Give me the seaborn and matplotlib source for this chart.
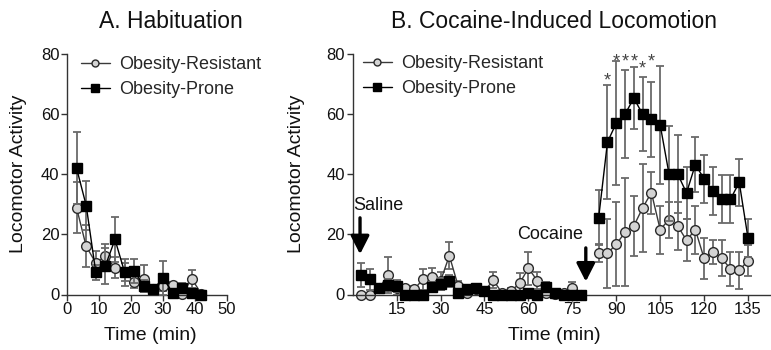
import matplotlib
matplotlib.use("Agg")
import matplotlib.pyplot as plt
import numpy as np
import pandas as pd
import seaborn as sns
from matplotlib.lines import Line2D

# ---------------- data ----------------
# A. Habituation (3-min bins)
hab_time = [3, 6, 9, 12, 15, 18, 21, 24, 27, 30, 33, 36, 39, 42]
hab_or = [28.8, 16.0, 10.5, 12.7, 8.9, 7.6, 4.1, 5.2, 1.7, 2.8, 3.0, 0.2, 5.2, 0.2]
hab_or_sem = [8.5, 7.0, 4.0, 4.0, 3.5, 3.0, 2.0, 4.5, 1.5, 1.5, 1.0, 1.0, 3.0, 0.5]
hab_op = [42.0, 29.6, 7.4, 9.6, 18.3, 7.4, 7.8, 2.8, 1.7, 5.5, 0.6, 2.2, 0.6, 0.0]
hab_op_sem = [12.0, 8.0, 2.5, 6.0, 7.5, 4.5, 4.0, 2.0, 1.0, 5.5, 1.0, 1.5, 1.0, 0.5]

# B. Cocaine-induced locomotion: saline phase
sal_time = [3, 6, 9, 12, 15, 18, 21, 24, 27, 30, 33, 36, 39, 42, 45, 48, 51, 54,
            57, 60, 63, 66, 69, 72, 75, 78]
sal_or = [0, 0, 2.0, 6.5, 2.0, 2.3, 1.7, 5.1, 5.7, 4.5, 12.9, 2.9, 0.6, 1.7, 1.1,
          4.8, 0.5, 1.1, 3.7, 8.8, 4.6, 0.6, 0.2, 0.5, 2.3, 0]
sal_or_sem = [0.5, 0.5, 1.5, 6.0, 2.0, 1.0, 1.0, 3.5, 3.0, 3.0, 4.5, 1.5, 0.5, 1.0,
              1.0, 2.6, 0.5, 1.0, 3.3, 5.5, 2.8, 0.5, 0.3, 0.5, 1.7, 0.3]
sal_op = [6.5, 5.1, 2.0, 3.0, 2.9, 0, 0, 0, 2.5, 3.4, 4.6, 0.6, 1.7, 2.0, 1.1,
          0, 0, 0, 0, 0.6, 0, 2.5, 0.6, 0, 0, 0]
sal_op_sem = [4.0, 3.5, 1.5, 2.0, 2.0, 0.3, 0.3, 0.3, 1.5, 2.0, 2.0, 0.5, 1.0, 1.0,
              1.0, 0.3, 0.3, 0.3, 0.3, 0.5, 0.3, 1.5, 0.5, 0.3, 0.3, 0.3]

# B. cocaine phase
coc_time = [84, 87, 90, 93, 96, 99, 102, 105, 108, 111, 114, 117, 120, 123, 126,
            129, 132, 135]
coc_op = [25.6, 50.7, 57.0, 60.0, 65.3, 60.0, 58.3, 56.4, 40.2, 40.0, 33.8, 43.2,
          38.5, 34.4, 31.7, 31.7, 37.3, 18.7]
coc_op_sem = [9.0, 19.0, 20.6, 14.6, 10.4, 12.3, 12.5, 19.6, 15.8, 13.0, 8.7, 9.1,
              8.0, 8.0, 8.0, 8.0, 7.8, 6.3]
coc_or = [13.9, 13.7, 16.7, 20.7, 22.8, 28.8, 33.9, 21.6, 24.9, 22.8, 18.0, 21.6,
          12.0, 14.2, 12.1, 8.5, 8.0, 11.3]
coc_or_sem = [3.0, 11.4, 14.0, 18.0, 10.0, 14.5, 7.0, 8.0, 6.0, 8.0, 7.0, 8.0,
              6.9, 4.0, 6.0, 5.7, 6.3, 5.0]

# significance stars (time, y)
star_time = [87, 90, 93, 96, 99, 102]
star_y = [72.9, 79.4, 79.4, 79.4, 76.9, 79.4]

labels = ["Obesity-Resistant", "Obesity-Prone"]

# ---------------- style ----------------
sns.set_theme(style="ticks")
plt.rcParams["font.family"] = ["Liberation Sans", "DejaVu Sans"]
plt.rcParams["axes.linewidth"] = 1.0

W, H = 771, 350
fig = plt.figure(figsize=(W / 100, H / 100), dpi=100)

def px_ax(x0, x1, ytop, ybot):
    return fig.add_axes([x0 / W, 1 - ybot / H, (x1 - x0) / W, (ybot - ytop) / H])

axA = px_ax(67, 227, 54, 294.5)
axB = px_ax(352.7, 770, 54, 294.5)

ERR_C = "#6a6a6a"
OR_STYLE = dict(color="#3a3a3a", marker="o", ms=7, mfc="#d4d4d4", mec="#2a2a2a", mew=1.0)
OP_STYLE = dict(color="black", marker="s", ms=6.6, mfc="black", mec="black", mew=1.0)


def draw(ax, t, y, e, seg, style, z):
    df = pd.DataFrame({"Time": t, "Activity": y, "seg": seg})
    ax.errorbar(t, y, yerr=e, fmt="none", ecolor=ERR_C, elinewidth=1.3,
                capsize=3.2, capthick=1.3, zorder=z)
    sns.lineplot(data=df, x="Time", y="Activity", units="seg", estimator=None,
                 ax=ax, lw=1.0, legend=False, zorder=z + 0.5, clip_on=False, **style)


# Panel A
draw(axA, hab_time, hab_or, hab_or_sem, [0] * len(hab_time), OR_STYLE, 2)
draw(axA, hab_time, hab_op, hab_op_sem, [0] * len(hab_time), OP_STYLE, 4)

# Panel B
t_all = sal_time + coc_time
seg_all = [0] * len(sal_time) + [1] * len(coc_time)
draw(axB, t_all, sal_or + coc_or, sal_or_sem + coc_or_sem, seg_all, OR_STYLE, 2)
draw(axB, t_all, sal_op + coc_op, sal_op_sem + coc_op_sem, seg_all, OP_STYLE, 4)

for ax in (axA, axB):
    ax.set_ylim(0, 80)
    ax.set_yticks([0, 20, 40, 60, 80])
    ax.spines["top"].set_visible(False)
    ax.spines["right"].set_visible(False)
    for s in ("left", "bottom"):
        ax.spines[s].set_color("#333333")
    ax.tick_params(direction="out", length=4, width=1, color="#333333",
                   labelsize=12, labelcolor="#111111", pad=1.5)
    ax.set_ylabel("Locomotor Activity", fontsize=14, color="#111111")
    ax.set_xlabel("Time (min)", fontsize=14, color="#111111")

axA.set_xlim(0, 50)
axA.set_xticks([0, 10, 20, 30, 40, 50])
axB.set_xlim(0, 142.5)
axB.set_xticks([15, 30, 45, 60, 75, 90, 105, 120, 135])

axA.yaxis.set_label_coords((27 - 67) / 160, 0.5)
axB.yaxis.set_label_coords((305 - 352.7) / 417.3, 0.5)
axA.xaxis.set_label_coords(0.52, -0.135)
axB.xaxis.set_label_coords((554 - 352.7) / 417.3, -0.135)

# titles
fig.text(171 / W, 1 - 21 / H, "A. Habituation", fontsize=16.5, ha="center", va="center",
         color="#111111")
fig.text(554 / W, 1 - 22 / H, "B. Cocaine-Induced Locomotion", fontsize=16.5,
         ha="center", va="center", color="#111111")

# legends
def handles():
    return [Line2D([], [], color="#3a3a3a", lw=1.0, marker="o", ms=5, mfc="#d4d4d4",
                   mec="#2a2a2a", mew=1.0),
            Line2D([], [], color="black", lw=1.0, marker="s", ms=5.5, mfc="black",
                   mec="black")]

for ax, xh, ytop in ((axA, 81, 56), (axB, 363, 55)):
    fig.legend(handles(), labels, loc="upper left",
               bbox_to_anchor=(xh / W, 1 - ytop / H), bbox_transform=fig.transFigure,
               frameon=False, fontsize=13, handlelength=1.6, handletextpad=0.5,
               labelspacing=0.45, borderpad=0, borderaxespad=0)

# arrows and annotations
arrow_kw = dict(arrowstyle="-|>,head_length=0.55,head_width=0.28", lw=2.4,
                color="black", shrinkA=0, shrinkB=0, mutation_scale=20)
axB.annotate("", xy=(2.5, 13.4), xytext=(2.5, 25.5), arrowprops=arrow_kw,
             annotation_clip=False)
axB.annotate("", xy=(79.6, 4.3), xytext=(79.6, 15.5), arrowprops=arrow_kw,
             annotation_clip=False)
axB.text(0.3, 29.6, "Saline", fontsize=13, ha="left", va="center", color="#111111")
axB.text(78.8, 19.8, "Cocaine", fontsize=13, ha="right", va="center", color="#111111")

for tx, ty in zip(star_time, star_y):
    axB.text(tx, ty - 3.4, "*", fontsize=13, ha="center", va="baseline",
             color="#444444", clip_on=False)

fig.savefig("out.png", dpi=100)
